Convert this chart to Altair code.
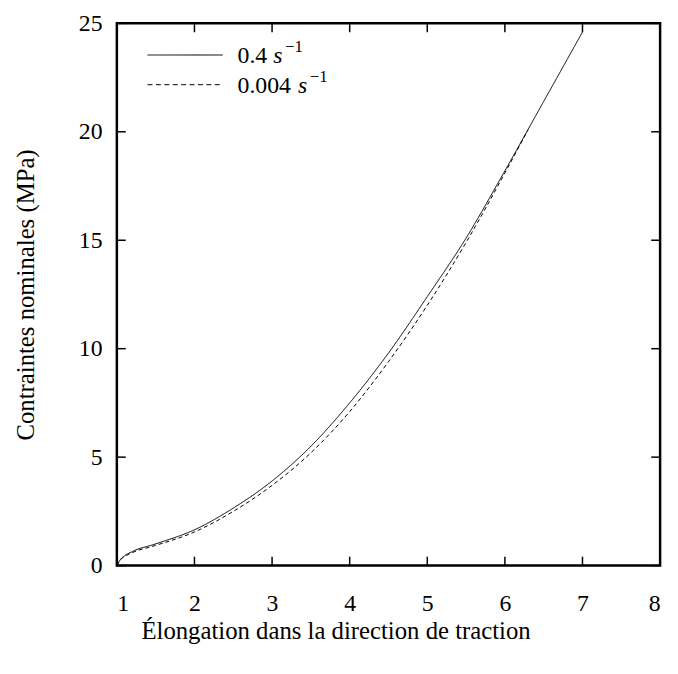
import altair as alt
import pandas as pd

# 0.4 s^-1 (solid)
x_fast = [1.0, 1.05, 1.1, 1.2, 1.5, 2.0, 2.5, 3.0, 3.5, 4.0, 4.5, 5.0, 5.5, 6.0, 6.5, 7.0]
y_fast = [0.0, 0.30, 0.45, 0.65, 1.0, 1.65, 2.65, 3.9, 5.5, 7.5, 9.8, 12.4, 15.1, 18.2, 21.4, 24.6]
# 0.004 s^-1 (dashed)
x_slow = [1.0, 1.05, 1.1, 1.2, 1.5, 2.0, 2.5, 3.0, 3.5, 4.0, 4.5, 5.0, 5.5, 6.0, 6.3]
y_slow = [0.0, 0.28, 0.42, 0.60, 0.93, 1.55, 2.5, 3.7, 5.2, 7.1, 9.4, 12.0, 14.9, 18.1, 20.1]

series = ["0.4", "0.004"]
x_ticks = [1, 2, 3, 4, 5, 6, 7, 8]
y_ticks = [0, 5, 10, 15, 20, 25]
x_title = "Élongation dans la direction de traction"
y_title = "Contraintes nominales (MPa)"

FONT = "Liberation Serif"
W, H = 549, 548

rows = []
for i, (a, b) in enumerate(zip(x_fast, y_fast)):
    rows.append({"x": a, "y": b, "s": series[0], "i": i})
for i, (a, b) in enumerate(zip(x_slow, y_slow)):
    rows.append({"x": a, "y": b, "s": series[1], "i": i})
df = pd.DataFrame(rows)

xs = alt.Scale(domain=[1, 8], nice=False, zero=False)
ys = alt.Scale(domain=[0, 25], nice=False, zero=False)
x_axis = alt.Axis(values=x_ticks, title=x_title, labelPadding=26,
                  titleX=221, titleY=66, titleBaseline="middle", titleAlign="center")
y_axis = alt.Axis(values=y_ticks, title=y_title, labelPadding=15,
                  titleX=-92, titleY=H / 2, titleBaseline="middle", titleAlign="center", titleAngle=-90)

curves = alt.Chart(df).mark_line(color="black", strokeWidth=1, interpolate="monotone").encode(
    x=alt.X("x:Q", scale=xs, axis=x_axis),
    y=alt.Y("y:Q", scale=ys, axis=y_axis),
    strokeDash=alt.StrokeDash("s:N", scale=alt.Scale(domain=series, range=[[1, 0], [4, 3]]), legend=None),
    order=alt.Order("i:Q"),
)

xt = pd.DataFrame({"x": x_ticks})
yt = pd.DataFrame({"y": y_ticks})
TL = 9
tick_style = dict(color="black", strokeWidth=1.5)
bt = alt.Chart(xt).mark_rule(**tick_style).encode(
    x=alt.X("x:Q", scale=xs, axis=x_axis), y=alt.value(H), y2=alt.value(H - TL))
tt = alt.Chart(xt).mark_rule(**tick_style).encode(
    x=alt.X("x:Q", scale=xs, axis=x_axis), y=alt.value(0), y2=alt.value(TL))
lt = alt.Chart(yt).mark_rule(**tick_style).encode(
    y=alt.Y("y:Q", scale=ys, axis=y_axis), x=alt.value(0), x2=alt.value(TL))
rt = alt.Chart(yt).mark_rule(**tick_style).encode(
    y=alt.Y("y:Q", scale=ys, axis=y_axis), x=alt.value(W), x2=alt.value(W - TL))

# legend
one = pd.DataFrame({"k": [0]})
leg_y = [32, 62]
leg_s_x = [158, 183]
layers = []
for k in range(2):
    dash = [1, 0] if k == 0 else [5, 3.5]
    layers.append(alt.Chart(one).mark_rule(color="black", strokeWidth=1, strokeDash=dash).encode(
        x=alt.value(31), x2=alt.value(107), y=alt.value(leg_y[k])))
    layers.append(alt.Chart(one).mark_text(
        text=series[k], font=FONT, fontSize=24, align="left", baseline="middle", color="black").encode(
        x=alt.value(122), y=alt.value(leg_y[k] + 1)))
    layers.append(alt.Chart(one).mark_text(
        text="s", font=FONT, fontSize=24, fontStyle="italic", align="left", baseline="middle", color="black").encode(
        x=alt.value(leg_s_x[k]), y=alt.value(leg_y[k] + 1)))
    layers.append(alt.Chart(one).mark_text(
        text="−1", font=FONT, fontSize=17, align="left", baseline="middle", color="black").encode(
        x=alt.value(leg_s_x[k] + 12), y=alt.value(leg_y[k] - 8)))

chart = alt.layer(curves, bt, tt, lt, rt, *layers).properties(
    width=W, height=H,
    autosize=alt.AutoSizeParams(type="none"),
    padding={"left": 110, "top": 12, "right": 10, "bottom": 100},
).configure_view(stroke="black", strokeWidth=2.5).configure_axis(
    domain=False, ticks=False, grid=False,
    labelFont=FONT, labelFontSize=24, labelColor="black",
    titleFont=FONT, titleFontSize=25, titleFontWeight="normal", titleColor="black",
)

chart.save("out.html", embed_options={"renderer": "svg", "actions": False})
